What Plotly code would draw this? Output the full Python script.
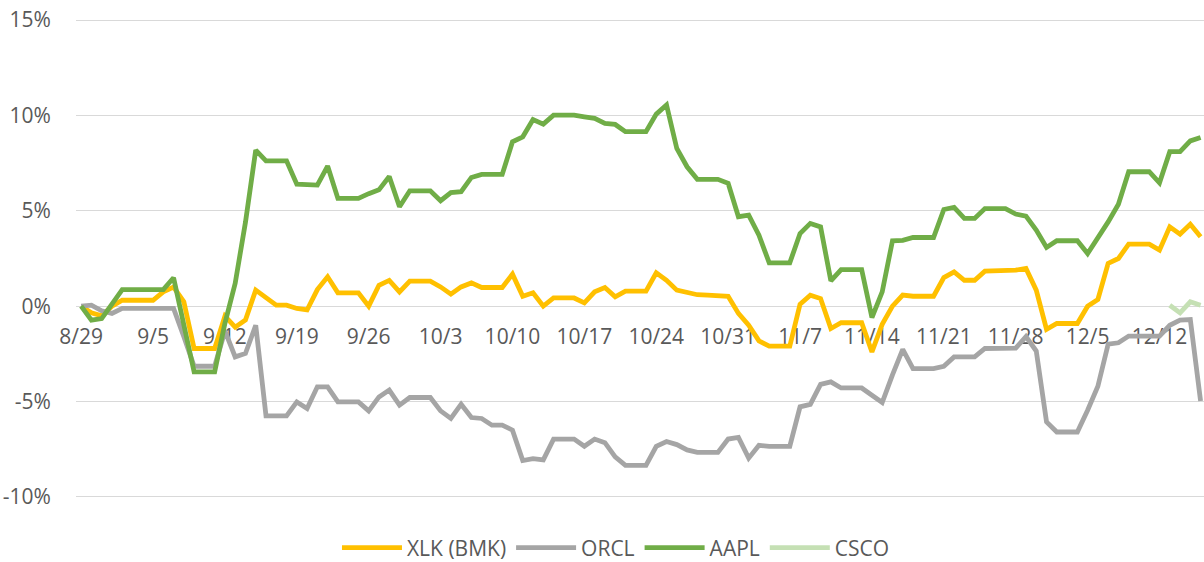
import pandas as pd
import plotly.graph_objects as go

# ---------------- data (daily, weekends carry Friday's value) ----------------
start_date = "2016-08-29"
n_days = 110
dates = pd.date_range(start_date, periods=n_days, freq="D")

xlk = [0.0, -0.35, -0.5, 0.0, 0.31, 0.31, 0.31, 0.31, 0.75, 1.0,
       0.23, -2.22, -2.22, -2.22, -0.52, -1.1, -0.73, 0.84, 0.45, 0.05,
       0.05, -0.12, -0.2, 0.87, 1.54, 0.7, 0.7, 0.7, 0.0, 1.1,
       1.35, 0.75, 1.31, 1.31, 1.31, 1.01, 0.63, 1.01, 1.22, 0.98,
       0.98, 0.98, 1.68, 0.52, 0.7, 0.0, 0.43, 0.43, 0.43, 0.17,
       0.75, 0.98, 0.49, 0.79, 0.79, 0.79, 1.75, 1.36, 0.84, 0.7,
       0.6, 0.58, 0.58, 0.52, -0.38, -1.0, -1.82, -2.1, -2.1, -2.1,
       0.1, 0.58, 0.4, -1.17, -0.87, -0.87, -0.87, -2.4, -0.95, 0.0,
       0.58, 0.52, 0.52, 0.52, 1.5, 1.8, 1.36, 1.36, 1.84, 1.84,
       1.84, 1.89, 1.98, 0.84, -1.22, -0.91, -0.91, -0.91, 0.0, 0.35,
       2.24, 2.5, 3.25, 3.25, 3.25, 2.94, 4.16, 3.78, 4.3, 3.64]

orcl = [0.0, 0.05, -0.24, -0.38, -0.12, -0.12, -0.12, -0.12, -0.12, -0.12,
        -1.6, -3.15, -3.15, -3.15, -1.3, -2.66, -2.48, -1.0, -5.75, -5.75,
        -5.75, -5.02, -5.37, -4.23, -4.23, -5.02, -5.02, -5.02, -5.49, -4.76,
        -4.4, -5.19, -4.79, -4.79, -4.79, -5.49, -5.89, -5.14, -5.84, -5.89,
        -6.24, -6.24, -6.5, -8.1, -8.0, -8.06, -6.97, -6.97, -6.97, -7.35,
        -6.97, -7.16, -7.9, -8.35, -8.35, -8.35, -7.35, -7.1, -7.26, -7.54,
        -7.67, -7.67, -7.67, -6.97, -6.88, -7.97, -7.3, -7.35, -7.35, -7.35,
        -5.28, -5.15, -4.1, -3.97, -4.29, -4.29, -4.29, -4.67, -5.05, -3.6,
        -2.27, -3.27, -3.27, -3.27, -3.15, -2.66, -2.66, -2.66, -2.22, -2.22,
        -2.22, -2.2, -1.6, -2.35, -6.07, -6.6, -6.6, -6.6, -5.46, -4.2,
        -1.99, -1.92, -1.57, -1.57, -1.57, -1.57, -1.0, -0.73, -0.7, -4.97]

aapl = [0.0, -0.73, -0.65, 0.14, 0.87, 0.87, 0.87, 0.87, 0.87, 1.49,
        -1.0, -3.45, -3.45, -3.45, -0.9, 1.2, 4.4, 8.18, 7.62, 7.62,
        7.62, 6.4, 6.35, 6.35, 7.35, 5.65, 5.65, 5.65, 5.9, 6.1,
        6.8, 5.21, 6.05, 6.05, 6.05, 5.53, 5.96, 6.0, 6.75, 6.91,
        6.91, 6.91, 8.62, 8.88, 9.79, 9.55, 10.02, 10.02, 10.02, 9.93,
        9.85, 9.58, 9.53, 9.15, 9.15, 9.15, 10.07, 10.55, 8.27, 7.31,
        6.65, 6.65, 6.65, 6.44, 4.69, 4.77, 3.72, 2.27, 2.27, 2.27,
        3.81, 4.34, 4.16, 1.33, 1.92, 1.92, 1.92, -0.6, 0.75, 3.43,
        3.45, 3.6, 3.6, 3.6, 5.07, 5.18, 4.6, 4.6, 5.12, 5.12,
        5.12, 4.83, 4.72, 3.99, 3.08, 3.43, 3.43, 3.43, 2.76, 3.55,
        4.42, 5.35, 7.05, 7.05, 7.05, 6.47, 8.1, 8.1, 8.67, 8.85]

csco = [None] * 106 + [0.05, -0.35, 0.23, 0.05]

series_names = ["XLK (BMK)", "ORCL", "AAPL", "CSCO"]
series_colors = ["#FFC000", "#A5A5A5", "#70AD47", "#C5E0B4"]

y_tick_vals = [-10, -5, 0, 5, 10, 15]
y_tick_text = ["-10%", "-5%", "0%", "5%", "10%", "15%"]
y_range = [-10.06, 15.06]

# ---------------- figure ----------------
FONT = "Open Sans"
TXT = "#595959"
FS = 21

fig = go.Figure()
for name, vals, col in zip(series_names, [xlk, orcl, aapl, csco], series_colors):
    fig.add_trace(go.Scatter(
        x=dates, y=vals, name=name, mode="lines",
        line=dict(color=col, width=4.8),
        connectgaps=False,
    ))

# x axis crosses the value axis at 0
zero_pos = (0 - y_range[0]) / (y_range[1] - y_range[0])

fig.update_layout(
    width=1204, height=562, autosize=False,
    paper_bgcolor="white", plot_bgcolor="white",
    margin=dict(l=76, r=0, t=19, b=64, pad=0, autoexpand=False),
    font=dict(family=FONT, size=FS, color=TXT),
    showlegend=True,
    legend=dict(
        orientation="h", x=0.4787, xanchor="center",
        yref="container", y=0.0249, yanchor="middle",
        itemwidth=60,
        font=dict(family=FONT, size=FS, color=TXT),
        bgcolor="rgba(0,0,0,0)",
    ),
    xaxis=dict(
        type="date",
        range=["2016-08-28 12:00", "2016-12-16 08:00"],
        tick0=start_date, dtick=7 * 24 * 3600 * 1000,
        tickformat="%-m/%-d",
        anchor="free", position=zero_pos,
        showgrid=False, zeroline=False, showline=False,
        ticks="outside", ticklen=12, tickcolor="rgba(0,0,0,0)",
        tickfont=dict(family=FONT, size=FS, color=TXT),
        layer="below traces", automargin=False,
    ),
    yaxis=dict(
        range=y_range,
        tickvals=y_tick_vals, ticktext=y_tick_text,
        showgrid=True, gridcolor="#D9D9D9", gridwidth=1.3,
        zeroline=False, showline=False,
        ticks="outside", ticklen=20, tickcolor="rgba(0,0,0,0)",
        tickfont=dict(family=FONT, size=FS, color=TXT),
        ticklabeloverflow="allow",
        automargin=False,
    ),
)

# remove the page's default body margin so the figure sits at the window origin
fig.write_html("out.html", config={"displayModeBar": False},
               post_script="document.body.style.margin='0';")
